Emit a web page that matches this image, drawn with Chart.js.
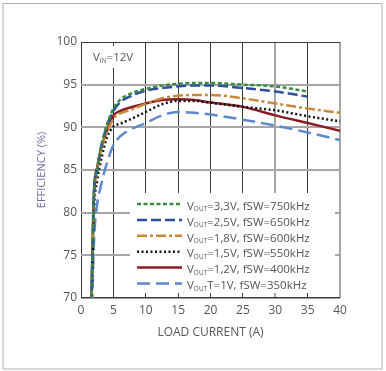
<!DOCTYPE html>
<html>
<head>
<meta charset="utf-8">
<script src="https://cdn.jsdelivr.net/npm/chart.js@4.4.1/dist/chart.umd.min.js"></script>
<style>
  body { margin: 0; background: #fff; }
  canvas { display: block; }
</style>
</head>
<body>
<canvas id="effChart" width="386" height="371"></canvas>
<script>
// load current (A) and efficiency (%)
var loadCurrent = [1.5, 1.75, 2, 2.5, 3, 3.5, 4, 5, 6, 7.5, 10, 12.5, 15, 17.5, 20, 25, 30, 35, 40];
var eff33 = [66, 75, 82.3, 85.2, 87.4, 89.0, 90.3, 92.2, 93.2, 93.9, 94.5, 94.9, 95.1, 95.2, 95.2, 95.0, 94.8, 94.2, null];
var eff25 = [66, 74.5, 82, 85.0, 87.3, 88.9, 90.2, 91.9, 92.9, 93.6, 94.3, 94.6, 94.8, 94.9, 94.9, 94.6, 94.2, 93.6, null];
var eff18 = [65.5, 74, 81.5, 84.8, 86.9, 88.3, 89.4, 91.0, 91.6, 92.0, 92.75, 93.4, 93.7, 93.8, 93.8, 93.4, 92.8, 92.2, 91.7];
var eff15 = [64, 72.5, 80, 83.8, 85.8, 87.5, 88.8, 90.1, 90.4, 90.9, 91.8, 92.7, 93.1, 93.1, 92.9, 92.4, 92.0, 91.3, 90.7];
var eff12 = [66, 75, 82.5, 85.3, 87.2, 88.5, 89.6, 91.4, 91.9, 92.3, 92.8, 93.2, 93.3, 93.2, 92.9, 92.4, 91.4, 90.5, 89.6];
var eff10 = [60, 70, 76.5, 81, 82.9, 84.5, 85.8, 87.9, 88.9, 89.7, 90.5, 91.4, 91.8, 91.7, 91.5, 90.9, 90.2, 89.4, 88.5];

var voutLabels = ['=3,3V', '=2,5V', '=1,8V', '=1,5V', '=1,2V', 'T=1V'];
var fswLabels = ['750kHz', '650kHz', '600kHz', '550kHz', '400kHz', '350kHz'];
var xTicks = [0, 5, 10, 15, 20, 25, 30, 35, 40];
var yTicks = [70, 75, 80, 85, 90, 95, 100];

var FONT = '"Open Sans", "DejaVu Sans", sans-serif';

function pts(vals) {
    return loadCurrent.map(function (x, i) { return { x: x, y: vals[i] }; });
}

var styles = [
    { color: '#3a8a3e', dash: [4, 2.5] },
    { color: '#2c4f9f', dash: [10, 4] },
    { color: '#c8883c', dash: [10, 3, 3, 3] },
    { color: '#151515', dash: [2, 2.5] },
    { color: '#8a1c24', dash: [] },
    { color: '#5d88cc', dash: [13, 6] }
];
var series = [eff33, eff25, eff18, eff15, eff12, eff10];

var datasets = series.map(function (s, i) {
    return {
        label: 'VOUT' + voutLabels[i] + ', fSW=' + fswLabels[i],
        data: pts(s),
        borderColor: styles[i].color,
        borderDash: styles[i].dash,
        borderWidth: 2.5,
        pointRadius: 0,
        fill: false,
        spanGaps: false,
        cubicInterpolationMode: 'monotone'
    };
});

function drawSub(ctx, x, y, sub, rest) {
    ctx.font = '11.5px ' + FONT;
    ctx.fillText('V', x, y);
    x += ctx.measureText('V').width;
    ctx.font = '6.5px ' + FONT;
    ctx.fillText(sub, x, y + 3);
    x += ctx.measureText(sub).width;
    ctx.font = '11.5px ' + FONT;
    ctx.fillText(rest, x, y);
}

var decorPlugin = {
    id: 'decor',
    beforeDraw: function (chart) {
        var ctx = chart.ctx;
        ctx.save();
        ctx.strokeStyle = '#b0b0b0';
        ctx.lineWidth = 1;
        ctx.strokeRect(3, 3.5, 379, 365.5);
        ctx.restore();
    },
    afterDatasetsDraw: function (chart) {
        var ctx = chart.ctx;
        var a = chart.chartArea;
        ctx.save();
        // VIN label
        ctx.fillStyle = '#fff';
        ctx.fillRect(a.left + 1, 46, 58, 22);
        ctx.fillStyle = '#555';
        ctx.textBaseline = 'middle';
        drawSub(ctx, 93, 58, 'IN', '=12V');

        // legend
        ctx.fillStyle = '#fff';
        ctx.fillRect(130, 193, a.right - 5 - 130, a.bottom - 5 - 193);
        chart.data.datasets.forEach(function (ds, i) {
            var y = 206.5 + i * 15.9;
            ctx.beginPath();
            ctx.strokeStyle = ds.borderColor;
            ctx.lineWidth = 2.5;
            ctx.setLineDash(ds.borderDash);
            ctx.moveTo(137, y - 2.5);
            ctx.lineTo(182, y - 2.5);
            ctx.stroke();
            ctx.setLineDash([]);
            ctx.fillStyle = '#555';
            drawSub(ctx, 187, y, 'OUT', voutLabels[i] + ', fSW=' + fswLabels[i]);
        });
        ctx.restore();
    }
};

var ctx = document.getElementById('effChart').getContext('2d');
var myChart = new Chart(ctx, {
    type: 'line',
    data: { datasets: datasets },
    plugins: [decorPlugin],
    options: {
        responsive: false,
        animation: false,
        layout: { padding: { left: 30, right: 46, top: 42, bottom: 23 } },
        plugins: {
            legend: { display: false },
            tooltip: { enabled: false }
        },
        scales: {
            x: {
                type: 'linear',
                min: 0,
                max: 40,
                afterFit: function (scale) { scale.height = 50; },
                afterBuildTicks: function (scale) {
                    scale.ticks = xTicks.map(function (v) { return { value: v }; });
                },
                border: { display: false },
                grid: {
                    drawTicks: false,
                    color: function (c) {
                        var v = c.tick && c.tick.value;
                        return (v === 30 || v === 40) ? '#a6a6a6' : '#3a3a3a';
                    },
                    lineWidth: function (c) {
                        var v = c.tick && c.tick.value;
                        return (v === 30 || v === 40) ? 2 : 1;
                    }
                },
                ticks: {
                    padding: 5,
                    color: '#555',
                    font: { family: FONT, size: 12 }
                },
                title: {
                    display: true,
                    text: 'LOAD CURRENT (A)',
                    color: '#555',
                    padding: { top: 0, bottom: 8 },
                    font: { family: FONT, size: 12 }
                }
            },
            y: {
                min: 70,
                max: 100,
                afterFit: function (scale) { scale.width = 51; },
                afterBuildTicks: function (scale) {
                    scale.ticks = yTicks.map(function (v) { return { value: v }; });
                },
                border: { display: false },
                grid: {
                    drawTicks: false,
                    color: function (c) {
                        var v = c.tick && c.tick.value;
                        return (v === 70 || v === 100) ? '#3a3a3a' : '#a6a6a6';
                    },
                    lineWidth: function (c) {
                        var v = c.tick && c.tick.value;
                        return (v === 70) ? 1.5 : (v === 100 ? 1 : 2);
                    }
                },
                ticks: {
                    padding: 4,
                    color: '#555',
                    font: { family: FONT, size: 12 }
                },
                title: {
                    display: true,
                    text: 'EFFICIENCY (%)',
                    color: '#7568a6',
                    padding: { top: 5.5, bottom: 0 },
                    font: { family: FONT, size: 11 }
                }
            }
        }
    }
});
</script>
</body>
</html>
